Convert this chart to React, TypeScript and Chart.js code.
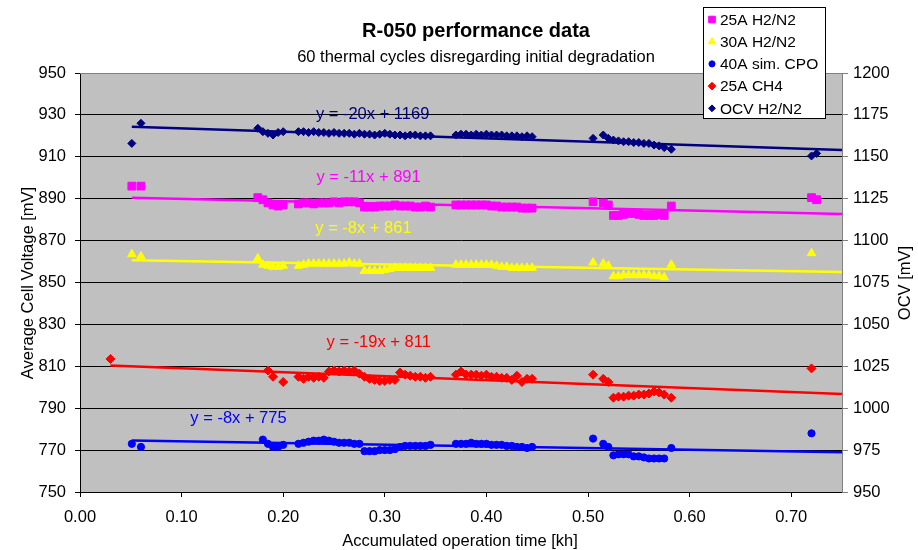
import React, { useEffect, useRef } from 'react';
import { Chart, registerables } from 'chart.js';
import { drawPoint } from 'chart.js/helpers';

Chart.register(...registerables);

// ---------- DATA ----------
const timeKh = [
  0.030,
  0.051, 0.060,
  0.175, 0.180, 0.185, 0.190, 0.195, 0.200,
  0.215, 0.220, 0.225, 0.230, 0.235, 0.240, 0.245, 0.250, 0.255, 0.260, 0.265, 0.270, 0.275,
  0.280, 0.285, 0.290, 0.295, 0.300, 0.305, 0.310, 0.315, 0.320, 0.325, 0.330, 0.335, 0.340, 0.345,
  0.370, 0.375, 0.380, 0.385, 0.390, 0.395, 0.400, 0.405, 0.410, 0.415, 0.420, 0.425, 0.430, 0.435, 0.440, 0.445,
  0.505, 0.515, 0.520, 0.525, 0.530, 0.535, 0.540, 0.545, 0.550, 0.555, 0.560, 0.565, 0.570, 0.575, 0.582,
  0.720, 0.725,
];

const h2n2At25A = [
  null,
  896, 896,
  890.5, 889.5, 888, 887, 886.5, 887,
  887.5, 888, 888, 887.5, 888, 888, 888, 888.5, 888, 888.5, 888.5, 888.5, 888,
  886, 886, 886, 886.5, 886.5, 886.5, 887, 886.5, 886.5, 886.5, 886, 886, 886.5, 886,
  887, 887, 887, 887, 887, 887, 887, 886.5, 886.5, 886, 886, 886, 886, 885.5, 885.5, 885.5,
  888.5, 888, 887, 882, 882, 882.5, 883, 883, 882.5, 882, 882, 882, 882.5, 882, 886.5,
  890.5, 889.5,
];

const h2n2At30A = [
  null,
  863.5, 862.5,
  861.5, 858.5, 858, 857.5, 857.5, 858,
  858, 858.5, 859, 859, 859, 859, 859, 859, 859, 859, 859.5, 859, 859,
  855.5, 855.5, 855.5, 855.5, 856, 856.5, 857, 857, 857, 857, 857, 857, 857, 857,
  858.5, 858.5, 858.5, 858.5, 858.5, 858.5, 858.5, 858.5, 858, 857.5, 857.5, 857, 857, 857, 857, 857,
  859.5, 859, 858, 853, 853, 853.5, 853.5, 853.5, 853.5, 853.5, 853.5, 853, 853, 852.5, 858.5,
  864, null,
];

const simCpoAt40A = [
  null,
  773, 771.5,
  null, 775, 773, 771.5, 771.5, 772.5,
  773, 773.5, 774, 774.5, 774.5, 775, 774.5, 774, 773.5, 773.5, 773.5, 773, 773,
  769.5, 769.5, 769.5, 770, 770, 770, 770.5, 771.5, 772, 772, 772, 772, 772, 772.5,
  773, 773, 773, 773.5, 773, 773, 773, 772.5, 772.5, 772.5, 772, 772, 771.5, 771.5, 771, 771.5,
  775.5, 773, 771.5, 767.5, 768, 768, 768, 767, 767, 766.5, 766, 766, 766, 766, 771,
  778, null,
];

const ch4At25A = [
  813.5,
  null, null,
  null, null, 808, 805, null, 802.5,
  805, 804, 805, 804.5, 805, 804.5, 807.5, 808, 807.5, 808, 807.5, 808, 806.5,
  805, 804, 803.5, 803, 803, 803.5, 803.5, 807, 806, 805.5, 805, 805, 804.5, 805,
  806, 807.5, 806, 806, 806, 805.5, 806, 805, 805, 804.5, 804.5, 803.5, 805.5, 802.5, 804, 804,
  806, 804, 802.5, 795, 795.5, 795.5, 796, 796, 796.5, 796.5, 797, 798, 797.5, 796.5, 795,
  809, null,
];

const ocvH2n2 = [
  null,
  1158, 1170,
  1167, 1165, 1164, 1163, 1164.5, 1165,
  1165, 1165, 1164.5, 1165, 1164.5, 1164.5, 1164, 1164.5, 1164, 1164, 1164, 1163.5, 1164,
  1163.5, 1163.5, 1163, 1163.5, 1164, 1163.5, 1163, 1163, 1162.5, 1163, 1163, 1162.5, 1162.5, 1162.5,
  1163, 1163.5, 1163.5, 1163, 1163.5, 1163, 1163.5, 1163, 1163, 1163, 1162.5, 1162.5, 1162.5, 1162, 1162.5, 1162,
  1161, 1163, 1161, 1160, 1159.5, 1159, 1159, 1158.5, 1158.5, 1158, 1158, 1157, 1156.5, 1155.5, 1154.5,
  1150.5, 1152,
];

const seriesNames = ['25A H2/N2', '30A H2/N2', '40A sim. CPO', '25A CH4', 'OCV H2/N2'];
const seriesValues = [h2n2At25A, h2n2At30A, simCpoAt40A, ch4At25A, ocvH2n2];
const trendSlope = [-11, -8, -8, -19, -20];
const trendIntercept = [891, 861, 775, 811, 1169];

const leftTicks = [750, 770, 790, 810, 830, 850, 870, 890, 910, 930, 950];
const rightTicks = [950, 975, 1000, 1025, 1050, 1075, 1100, 1125, 1150, 1175, 1200];
const xTicks = [0.0, 0.1, 0.2, 0.3, 0.4, 0.5, 0.6, 0.7];

// ---------- STYLE / LAYOUT ----------
const FONT = '"Liberation Sans", Arial, Helvetica, sans-serif';
const seriesStyle = [
  { color: '#FF00FF', pointStyle: 'rect', radius: 5.5, axis: 'y' },
  { color: '#FFFF00', pointStyle: 'triangle', radius: 5, axis: 'y' },
  { color: '#0000FF', pointStyle: 'circle', radius: 3.6, axis: 'y' },
  { color: '#FF0000', pointStyle: 'rectRot', radius: 4.5, axis: 'y' },
  { color: '#000080', pointStyle: 'rectRot', radius: 4, axis: 'y2' },
];
// equation label anchor (data units on the series' own axis)
const equationAnchor = [
  { x: 0.284, y: 900 },
  { x: 0.279, y: 876 },
  { x: 0.156, y: 785.3 },
  { x: 0.294, y: 821.6 },
  { x: 0.288, y: 1175 },
];

const decorPlugin = {
  id: 'decor',
  beforeDraw(chart: any) {
    const { ctx, chartArea: a } = chart;
    ctx.save();
    ctx.fillStyle = '#ffffff';
    ctx.fillRect(0, 0, chart.width, chart.height);
    ctx.fillStyle = '#C0C0C0';
    ctx.fillRect(a.left, a.top, a.right - a.left, a.bottom - a.top);
    ctx.restore();
  },
  afterDraw(chart: any) {
    const { ctx, chartArea: a, scales } = chart;
    ctx.save();
    // top frame line
    ctx.strokeStyle = '#808080';
    ctx.lineWidth = 1;
    ctx.beginPath();
    ctx.moveTo(a.left, a.top + 0.5);
    ctx.lineTo(a.right, a.top + 0.5);
    ctx.stroke();

    // titles
    ctx.fillStyle = '#000';
    ctx.textAlign = 'center';
    ctx.textBaseline = 'middle';
    ctx.font = `bold 20px ${FONT}`;
    ctx.fillText('R-050 performance data', 476, 31);
    ctx.font = `16.5px ${FONT}`;
    ctx.fillText('60 thermal cycles disregarding initial degradation', 476, 57);

    // axis titles
    ctx.font = `16.5px ${FONT}`;
    ctx.fillText('Accumulated operation time [kh]', 460, 541);
    ctx.save();
    ctx.translate(28, 283);
    ctx.rotate(-Math.PI / 2);
    ctx.fillText('Average Cell Voltage [mV]', 0, 0);
    ctx.restore();
    ctx.save();
    ctx.translate(905, 283);
    ctx.rotate(-Math.PI / 2);
    ctx.fillText('OCV [mV]', 0, 0);
    ctx.restore();

    // equation labels
    ctx.font = `16.5px ${FONT}`;
    seriesNames.forEach((_, i) => {
      const st = seriesStyle[i];
      const px = scales.x.getPixelForValue(equationAnchor[i].x);
      const py = scales[st.axis].getPixelForValue(equationAnchor[i].y);
      ctx.fillStyle = st.color;
      ctx.fillText(`y = ${trendSlope[i]}x + ${trendIntercept[i]}`, px, py);
    });

    // legend
    const lx = 703, ly = 7, lw = 122, lh = 111;
    ctx.fillStyle = '#fff';
    ctx.fillRect(lx, ly, lw, lh);
    ctx.strokeStyle = '#000';
    ctx.lineWidth = 1;
    ctx.strokeRect(lx + 0.5, ly + 0.5, lw, lh);
    ctx.textAlign = 'left';
    ctx.font = `15.5px ${FONT}`;
    seriesNames.forEach((name, i) => {
      const st = seriesStyle[i];
      const y = 19.5 + i * 22.2;
      ctx.fillStyle = st.color;
      ctx.strokeStyle = st.color;
      drawPoint(ctx, { pointStyle: st.pointStyle, radius: st.radius * 0.85, borderWidth: 1, rotation: 0 } as any, 712, y);
      ctx.fillStyle = '#000';
      ctx.fillText(name, 720, y + 1);
    });
    ctx.restore();
  },
};

function buildPoints(values: (number | null)[]) {
  const pts: { x: number; y: number }[] = [];
  values.forEach((v, i) => {
    if (v !== null) pts.push({ x: timeKh[i], y: v });
  });
  return pts;
}

export default function App() {
  const ref = useRef<HTMLCanvasElement | null>(null);
  useEffect(() => {
    document.body.style.margin = '0';
    if (!ref.current) return;
    const datasets: any[] = [];
    seriesNames.forEach((name, i) => {
      const st = seriesStyle[i];
      const pts = buildPoints(seriesValues[i]);
      const x0 = pts[0].x;
      const x1 = 0.75;
      datasets.push({
        type: 'line',
        label: name + ' trend',
        data: [
          { x: x0, y: trendSlope[i] * x0 + trendIntercept[i] },
          { x: x1, y: trendSlope[i] * x1 + trendIntercept[i] },
        ],
        borderColor: st.color,
        borderWidth: 2.5,
        pointRadius: 0,
        fill: false,
        yAxisID: st.axis,
        order: 0,
      });
      datasets.push({
        type: 'scatter',
        label: name,
        data: pts,
        showLine: false,
        pointStyle: st.pointStyle,
        pointRadius: st.radius,
        backgroundColor: st.color,
        borderColor: st.color,
        borderWidth: 1,
        yAxisID: st.axis,
        order: 1,
      });
    });

    const tickFont = { family: FONT, size: 16.5 };
    const chart = new Chart(ref.current, {
      type: 'scatter',
      data: { datasets },
      plugins: [decorPlugin],
      options: {
        animation: false,
        responsive: false,
        events: [],
        layout: { padding: { top: 73, left: 0, right: 0, bottom: 0 } },
        plugins: { legend: { display: false }, tooltip: { enabled: false }, title: { display: false } },
        scales: {
          x: {
            type: 'linear',
            min: 0,
            max: 0.75,
            afterBuildTicks: (s: any) => { s.ticks = xTicks.map((v) => ({ value: v })); },
            afterFit: (s: any) => { s.height = 58; },
            ticks: { font: tickFont, color: '#000', padding: 11, maxRotation: 0, callback: (v: any) => Number(v).toFixed(2) },
            grid: { drawOnChartArea: false, drawTicks: true, tickLength: 5, color: '#000' },
            border: { display: true, color: '#000', width: 1 },
          },
          y: {
            type: 'linear',
            position: 'left',
            min: 750,
            max: 950,
            afterBuildTicks: (s: any) => { s.ticks = leftTicks.map((v) => ({ value: v })); },
            afterFit: (s: any) => { s.width = 80; },
            ticks: { font: tickFont, color: '#000', padding: 9, callback: (v: any) => String(v) },
            grid: { color: '#000', lineWidth: 1, tickLength: 5 },
            border: { display: true, color: '#000', width: 1 },
          },
          y2: {
            type: 'linear',
            position: 'right',
            min: 950,
            max: 1200,
            afterBuildTicks: (s: any) => { s.ticks = rightTicks.map((v) => ({ value: v })); },
            afterFit: (s: any) => { s.width = 76; },
            ticks: { font: tickFont, color: '#000', padding: 5, callback: (v: any) => String(v) },
            grid: { drawOnChartArea: false, color: '#808080', tickLength: 6 },
            border: { display: true, color: '#808080', width: 1 },
          },
        },
      } as any,
    });
    return () => chart.destroy();
  }, []);
  return <canvas ref={ref} width={918} height={550} style={{ display: 'block' }} />;
}
